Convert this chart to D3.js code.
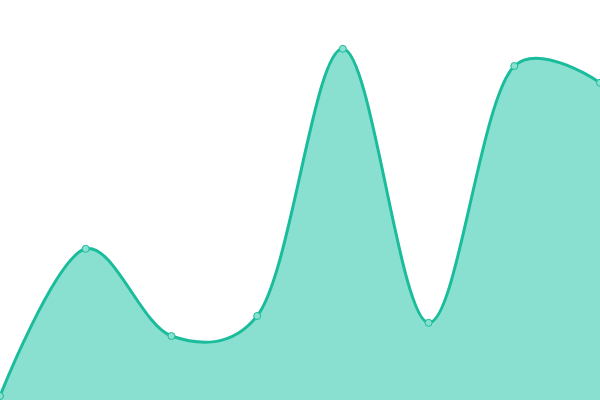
<!DOCTYPE html>
<html>
<head>
<meta charset="utf-8">
<script src="https://cdn.jsdelivr.net/npm/d3@7"></script>
<style>
  html, body { margin: 0; padding: 0; background: #fff; }
</style>
</head>
<body>
<div id="chart"></div>
<script>
const indexes = [0, 1, 2, 3, 4, 5, 6, 7];
const values = [1, 37.8, 16, 21, 87.8, 19.3, 83.5, 79.3];

const width = 600, height = 400;

const svg = d3.select("#chart")
  .append("svg")
  .attr("width", width)
  .attr("height", height);

const x = d3.scaleLinear()
  .domain([0, indexes.length - 1])
  .range([0, width]);

const y = d3.scaleLinear()
  .domain([0, 100])
  .range([height, 0]);

const data = indexes.map((d, i) => ({ i: d, v: values[i] }));
const curve = d3.curveCatmullRom.alpha(0.25);

// filled area
svg.append("path")
  .datum(data)
  .attr("fill", "#8ae0d0")
  .attr("d", d3.area()
    .curve(curve)
    .x(d => x(d.i))
    .y0(height)
    .y1(d => y(d.v)));

// line
svg.append("path")
  .datum(data)
  .attr("fill", "none")
  .attr("stroke", "#1abc9c")
  .attr("stroke-width", 3)
  .attr("d", d3.line()
    .curve(curve)
    .x(d => x(d.i))
    .y(d => y(d.v)));

// points
svg.selectAll("circle")
  .data(data)
  .join("circle")
  .attr("cx", d => x(d.i))
  .attr("cy", d => y(d.v))
  .attr("r", 3.5)
  .attr("fill", "#8ae0d0")
  .attr("stroke", "#1abc9c")
  .attr("stroke-width", 1);
</script>
</body>
</html>
